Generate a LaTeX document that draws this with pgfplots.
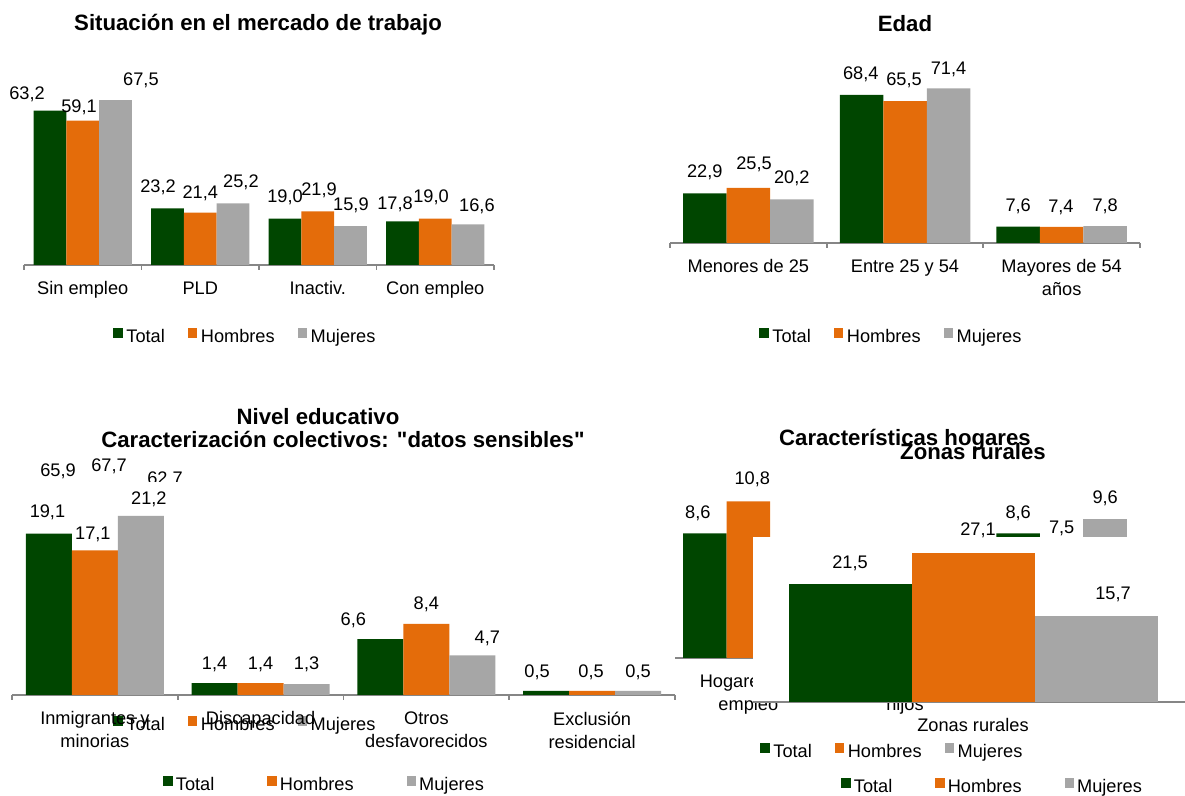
\documentclass[border=0pt]{standalone}
\usepackage{fontspec}
\setmainfont{Liberation Sans}[Ligatures=TeXOff]
\usepackage{pgfplots}
\usepackage{pgfplotstable}
\pgfplotsset{compat=1.18}
\definecolor{cT}{RGB}{0,70,0}
\definecolor{cH}{RGB}{228,108,10}
\definecolor{cM}{RGB}{166,166,166}
\definecolor{axg}{RGB}{134,134,134}

\pgfplotsset{
  sq/.style={legend image code/.code={\fill[##1] (0pt,-0.4pt) rectangle (4.75pt,4.35pt);}},
  panel/.style={
    scale only axis, anchor=south west, clip=false,
    ybar=0pt, ymin=0, enlargelimits=false,
    axis y line=none, axis x line*=bottom,
    x axis line style={draw=axg, line width=0.9pt, -},
    major tick length=0pt, minor tick length=2.5pt, tick align=outside,
    minor x tick style={draw=axg, line width=0.9pt},
    xticklabel style={font=\fontsize{9.1}{11.5}\selectfont, align=center, anchor=north, inner sep=0pt, yshift=-8.2pt},
    every axis title shift=0pt,
    title style={anchor=base, yshift=0pt, font=\fontsize{11.1}{13}\selectfont\bfseries},
    legend style={draw=none, fill=none, inner sep=0pt, anchor=west,
      font=\fontsize{9.1}{11}\selectfont, nodes={inner sep=0pt}},
    legend columns=3,
    nodes near coords={\pgfmathprintnumber[fixed,fixed zerofill,precision=1,use comma,assume math mode=true]{\pgfplotspointmeta}},
    visualization depends on={0.5*\thisrow{dx} \as \lblx},
    visualization depends on={0.5*(\thisrow{dy}-6.4) \as \lbly},
    nodes near coords style={anchor=base, inner sep=0pt, xshift=\lblx pt, yshift=\lbly pt, font=\fontsize{9.1}{11}\selectfont, text=black},
  },
}

% Situacion en el mercado de trabajo
\pgfplotstableread{
x y dx dy
0 63.2 -23 17
1 23.2 -9.5 22
2 19.0 0 22
3 17.8 -7.5 18
}\paT
\pgfplotstableread{
x y dx dy
0 59.1 -3.75 14
1 21.4 0 21
2 21.9 1.25 22
3 19.0 -4.25 22
}\paH
\pgfplotstableread{
x y dx dy
0 67.5 25.5 21
1 25.2 8 22
2 15.9 0.5 22
3 16.6 9 19
}\paM
% Edad
\pgfplotstableread{
x y dx dy
0 22.9 0 22
1 68.4 -0.7 22
2 7.6 0 21
}\pbT
\pgfplotstableread{
x y dx dy
0 25.5 5.7 25
1 65.5 -1 22
2 7.4 -0.7 21
}\pbH
\pgfplotstableread{
x y dx dy
0 20.2 0 22
1 71.4 0 20
2 7.8 0 21
}\pbM
% Caracterizacion colectivos
\pgfplotstableread{
x y dx dy
0 19.1 -1.4 22
1 1.4 0 20
2 6.6 -27 20
3 0.5 -9 20
}\pcT
\pgfplotstableread{
x y dx dy
0 17.1 -2 17
1 1.4 0 20
2 8.4 0 21
3 0.5 -1 20
}\pcH
\pgfplotstableread{
x y dx dy
0 21.2 8 18
1 1.3 0 21
2 4.7 15 18
3 0.5 0 20
}\pcM
% Nivel educativo (behind)
\pgfplotstableread{
x y dx dy
0 65.9 -0.8 22
}\pdT
\pgfplotstableread{
x y dx dy
0 67.7 6.7 22.5
}\pdH
\pgfplotstableread{
x y dx dy
0 62.7 19.2 22
}\pdM
% Caracteristicas hogares (behind)
\pgfplotstableread{
x y dx dy
0 8.6 -7 21
2 8.6 0 21
}\peT
\pgfplotstableread{
x y dx dy
0 10.8 4 23.5
2 7.5 0 22
}\peH
\pgfplotstableread{
x y dx dy
2 9.6 0 22
}\peM
% Zonas rurales
\pgfplotstableread{
x y dx dy
0 21.5 0 22
}\pfT
\pgfplotstableread{
x y dx dy
0 27.1 5 24
}\pfH
\pgfplotstableread{
x y dx dy
0 15.7 17 23
}\pfM

\begin{document}
\begin{tikzpicture}
\useasboundingbox (0pt,0pt) rectangle (592.5pt,398pt);

% ---- Nivel educativo (behind)
\begin{axis}[panel, at={(12pt,71.5pt)}, width=235pt, height=97.75pt, ymax=80,
  xmin=-0.5, xmax=2.5, bar width=21.75pt, xtick=\empty,
  title={Nivel educativo},
  title style={at={(axis description cs:0.6255,1.1668)}},
  legend style={at={(axis description cs:0.1894,-0.3673)},
    /tikz/every odd column/.append style={column sep=1.75pt},
    /tikz/every even column/.append style={column sep=11.5pt}}]
\addplot[fill=cT, draw=none, sq] table[x=x,y=y] {\pdT}; \addlegendentry{Total}
\addplot[fill=cH, draw=none, sq] table[x=x,y=y] {\pdH}; \addlegendentry{Hombres}
\addplot[fill=cM, draw=none, sq] table[x=x,y=y] {\pdM}; \addlegendentry{Mujeres}
\end{axis}

% ---- Caracteristicas hogares (behind)
\begin{axis}[panel, at={(335pt,69pt)}, width=235pt, height=87pt, ymax=12,
  xmin=-0.5, xmax=2.5, bar width=21.75pt,
  xtick={0,1,2}, xticklabels={Hogares sin\\empleo, Hogares con\\hijos, {}},
  minor xtick={-0.5,0.5,1.5,2.5},
  title={Características hogares},
  title style={at={(axis description cs:0.5,1.219)}},
  legend style={at={(axis description cs:0.3638,-0.7402)},
    /tikz/every odd column/.append style={column sep=1.5pt},
    /tikz/every even column/.append style={column sep=21.5pt}}]
\addplot[fill=cT, draw=none, sq] table[x=x,y=y] {\peT}; \addlegendentry{Total}
\addplot[fill=cH, draw=none, sq] table[x=x,y=y] {\peH}; \addlegendentry{Hombres}
\addplot[fill=cM, draw=none, sq] table[x=x,y=y] {\peM}; \addlegendentry{Mujeres}
\end{axis}

% ---- Situacion en el mercado de trabajo
\begin{axis}[panel, at={(12pt,265.5pt)}, width=235pt, height=97.75pt, ymax=80,
  xmin=-0.5, xmax=3.5, bar width=16.35pt,
  xtick={0,1,2,3}, xticklabels={Sin empleo, PLD, Inactiv., Con empleo},
  minor xtick={-0.5,0.5,1.5,2.5,3.5},
  title={Situación en el mercado de trabajo},
  title style={at={(axis description cs:0.4979,1.1974)}},
  legend style={at={(axis description cs:0.1894,-0.3673)},
    /tikz/every odd column/.append style={column sep=1.75pt},
    /tikz/every even column/.append style={column sep=11.5pt}}]
\addplot[fill=cT, draw=none, sq] table[x=x,y=y] {\paT}; \addlegendentry{Total}
\addplot[fill=cH, draw=none, sq] table[x=x,y=y] {\paH}; \addlegendentry{Hombres}
\addplot[fill=cM, draw=none, sq] table[x=x,y=y] {\paM}; \addlegendentry{Mujeres}
\end{axis}

% ---- Edad
\begin{axis}[panel, at={(335pt,276.5pt)}, width=235pt, height=86.6pt, ymax=80,
  xmin=-0.5, xmax=2.5, bar width=21.75pt,
  xtick={0,1,2}, xticklabels={Menores de 25, Entre 25 y 54, Mayores de 54\\años},
  minor xtick={-0.5,0.5,1.5,2.5},
  title={Edad},
  title style={at={(axis description cs:0.5,1.2188)}},
  legend style={at={(axis description cs:0.1894,-0.5416)},
    /tikz/every odd column/.append style={column sep=1.75pt},
    /tikz/every even column/.append style={column sep=11.5pt}}]
\addplot[fill=cT, draw=none, sq] table[x=x,y=y] {\pbT}; \addlegendentry{Total}
\addplot[fill=cH, draw=none, sq] table[x=x,y=y] {\pbH}; \addlegendentry{Hombres}
\addplot[fill=cM, draw=none, sq] table[x=x,y=y] {\pbM}; \addlegendentry{Mujeres}
\end{axis}

% ---- Caracterizacion colectivos
\begin{axis}[panel, at={(6pt,50.5pt)}, width=331.5pt, height=106.5pt, ymax=25.2,
  xmin=-0.5, xmax=3.5, bar width=23pt,
  axis background/.style={fill=white},
  xtick={0,1,2,3}, xticklabels={Inmigrantes y\\minorias, Discapacidad, Otros\\desfavorecidos, Exclusión\\residencial},
  minor xtick={-0.5,0.5,1.5,2.5,3.5},
  title={Caracterización colectivos: "datos sensibles"},
  title style={at={(axis description cs:0.4992,1.1601)}},
  legend style={at={(axis description cs:0.2278,-0.4216)},
    /tikz/every odd column/.append style={column sep=1.5pt},
    /tikz/every even column/.append style={column sep=26.5pt}}]
\addplot[fill=cT, draw=none, sq] table[x=x,y=y] {\pcT}; \addlegendentry{Total}
\addplot[fill=cH, draw=none, sq] table[x=x,y=y] {\pcH}; \addlegendentry{Hombres}
\addplot[fill=cM, draw=none, sq] table[x=x,y=y] {\pcM}; \addlegendentry{Mujeres}
\end{axis}

% ---- Zonas rurales
\begin{axis}[panel, at={(376.5pt,47pt)}, width=220pt, height=82.5pt, ymax=30.05,
  xmin=-0.5, xmax=0.5, bar width=61.5pt,
  axis background/.style={fill=white},
  xtick={0}, xticklabels={Zonas rurales},
  title={Zonas rurales},
  title style={at={(axis description cs:0.5,1.4673)}},
  legend style={at={(axis description cs:0.0159,-0.3018)},
    /tikz/every odd column/.append style={column sep=1.75pt},
    /tikz/every even column/.append style={column sep=11.5pt}}]
\addplot[fill=cT, draw=none, sq] table[x=x,y=y] {\pfT}; \addlegendentry{Total}
\addplot[fill=cH, draw=none, sq] table[x=x,y=y] {\pfH}; \addlegendentry{Hombres}
\addplot[fill=cM, draw=none, sq] table[x=x,y=y] {\pfM}; \addlegendentry{Mujeres}
\end{axis}
\end{tikzpicture}
\end{document}
